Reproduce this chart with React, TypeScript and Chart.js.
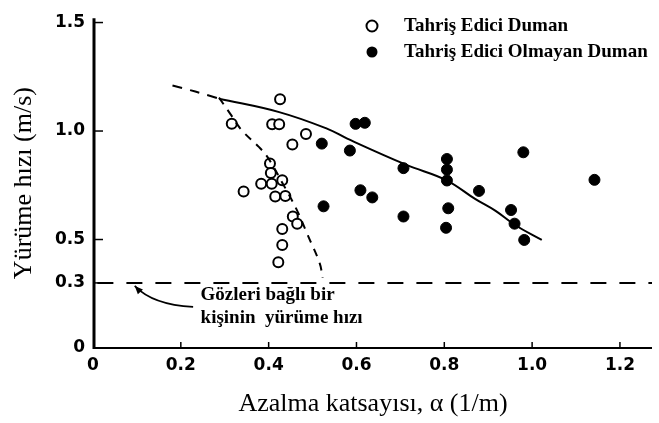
import React, { useEffect, useRef } from "react";
import { Chart, registerables } from "chart.js";

Chart.register(...registerables);

// ---- data ----
const openX = [0.426, 0.316, 0.408, 0.424, 0.485, 0.454, 0.403, 0.405, 0.383, 0.407, 0.431, 0.343, 0.415, 0.438, 0.455, 0.465, 0.431, 0.431, 0.422];
const openY = [1.146, 1.033, 1.031, 1.031, 0.986, 0.938, 0.85, 0.807, 0.757, 0.757, 0.773, 0.721, 0.698, 0.701, 0.606, 0.573, 0.548, 0.475, 0.395];

const filledX = [0.598, 0.619, 0.521, 0.585, 0.707, 0.806, 0.806, 0.806, 0.609, 0.636, 0.525, 0.707, 0.809, 0.804, 0.98, 0.879, 0.952, 0.96, 0.982, 1.142];
const filledY = [1.033, 1.038, 0.942, 0.91, 0.829, 0.871, 0.822, 0.772, 0.727, 0.694, 0.653, 0.606, 0.644, 0.554, 0.902, 0.724, 0.636, 0.573, 0.498, 0.775];

const solidX = [0.287, 0.424, 0.534, 0.579, 0.714, 0.804, 0.871, 0.916, 0.961, 1.022];
const solidY = [1.149, 1.087, 1.01, 0.965, 0.844, 0.774, 0.686, 0.633, 0.567, 0.498];

const dashTopX = [0.181, 0.233, 0.287];
const dashTopY = [1.21, 1.182, 1.149];

const dashDownX = [0.287, 0.313, 0.339, 0.377, 0.399, 0.431, 0.463, 0.489, 0.516, 0.523];
const dashDownY = [1.154, 1.078, 1.003, 0.928, 0.875, 0.762, 0.641, 0.52, 0.392, 0.323];

const blindX = [0.01, 1.273];
const blindY = [0.3, 0.3];

const xTicks = [0, 0.2, 0.4, 0.6, 0.8, 1.0, 1.2];
const yTicks = [0, 0.3, 0.5, 1.0, 1.5];

const legendLabels = ["Tahriş Edici Duman", "Tahriş Edici Olmayan Duman"];
const xTitle = "Azalma katsayısı, α (1/m)";
const yTitle = "Yürüme hızı (m/s)";
const noteLines = ["Gözleri bağlı bir", "kişinin  yürüme hızı"];

const pts = (xs: number[], ys: number[]) => xs.map((v, i) => ({ x: v, y: ys[i] }));
const fmt = (v: number) => (v === 0 ? "0" : v.toFixed(1));

const decor = {
  id: "decor",
  afterDatasetsDraw(chart: any) {
    const { ctx, chartArea: a, scales } = chart;
    const x = scales.x;
    const y = scales.y;
    ctx.save();
    ctx.strokeStyle = "#000";
    ctx.fillStyle = "#000";
    ctx.setLineDash([]);
    const seg = (x1: number, y1: number, x2: number, y2: number) => {
      ctx.beginPath();
      ctx.moveTo(x1, y1);
      ctx.lineTo(x2, y2);
      ctx.stroke();
    };
    // axes
    ctx.lineWidth = 3;
    seg(a.left + 1, a.top, a.left + 1, a.bottom + 1);
    ctx.lineWidth = 2;
    seg(a.left, a.bottom, a.right, a.bottom);
    // inward tick marks
    ctx.lineWidth = 1.5;
    yTicks.forEach((v) => {
      if (v === 0) return;
      const py = y.getPixelForValue(v);
      seg(a.left, py, a.left + 10, py);
    });
    xTicks.forEach((v) => {
      if (v === 0) return;
      const px = x.getPixelForValue(v);
      seg(px, a.bottom, px, a.bottom - 6);
    });

    // legend
    const lx = 372;
    const rows = [26, 52];
    ctx.lineWidth = 2;
    ctx.beginPath();
    ctx.arc(lx, rows[0], 5.5, 0, Math.PI * 2);
    ctx.fillStyle = "#fff";
    ctx.fill();
    ctx.stroke();
    ctx.fillStyle = "#000";
    ctx.beginPath();
    ctx.arc(lx, rows[1], 5.5, 0, Math.PI * 2);
    ctx.fill();
    ctx.font = "bold 19px 'Liberation Serif'";
    ctx.textAlign = "left";
    ctx.textBaseline = "middle";
    ctx.fillText(legendLabels[0], 404, rows[0]);
    ctx.fillText(legendLabels[1], 404, rows[1]);

    // annotation for the blindfolded walking speed line
    const lineY = y.getPixelForValue(0.3);
    const tipX = x.getPixelForValue(0.095);
    const tailX = x.getPixelForValue(0.228);
    const tipY = lineY + 3;
    const tailY = lineY + 24;
    ctx.lineWidth = 1.6;
    ctx.beginPath();
    ctx.moveTo(tailX, tailY);
    ctx.quadraticCurveTo(tipX + 18, tailY - 2, tipX, tipY);
    ctx.stroke();
    const ang = Math.atan2(tipY - (tailY - 2), tipX - (tipX + 18));
    ctx.beginPath();
    ctx.moveTo(tipX, tipY);
    ctx.lineTo(tipX - 9 * Math.cos(ang - 0.4), tipY - 9 * Math.sin(ang - 0.4));
    ctx.lineTo(tipX - 9 * Math.cos(ang + 0.4), tipY - 9 * Math.sin(ang + 0.4));
    ctx.closePath();
    ctx.fill();
    const tx = x.getPixelForValue(0.245);
    ctx.font = "bold 19px 'Liberation Serif'";
    ctx.textBaseline = "middle";
    ctx.fillText(noteLines[0], tx, lineY + 12);
    ctx.fillText(noteLines[1], tx, lineY + 35);

    // axis titles
    ctx.font = "26px 'Liberation Serif'";
    ctx.textAlign = "center";
    ctx.textBaseline = "alphabetic";
    ctx.fillText(xTitle, 373, 411);
    ctx.save();
    ctx.translate(31, (a.top + a.bottom) / 2);
    ctx.rotate(-Math.PI / 2);
    ctx.fillText(yTitle, 0, 0);
    ctx.restore();

    ctx.restore();
  },
};

export default function App() {
  const ref = useRef<HTMLCanvasElement | null>(null);
  useEffect(() => {
    if (!ref.current) return;
    const lineBase = {
      type: "scatter" as const,
      showLine: true,
      pointRadius: 0,
      borderColor: "#000",
      backgroundColor: "#000",
      fill: false,
    };
    const chart = new Chart(ref.current, {
      type: "scatter",
      data: {
        datasets: [
          { ...lineBase, data: pts(blindX, blindY), borderWidth: 2, borderDash: [16, 13], tension: 0 },
          { ...lineBase, data: pts(solidX, solidY), borderWidth: 2, tension: 0.4 },
          { ...lineBase, data: pts(dashTopX, dashTopY), borderWidth: 2, borderDash: [10, 8], tension: 0.3 },
          { ...lineBase, data: pts(dashDownX, dashDownY), borderWidth: 2, borderDash: [8, 7], tension: 0.4 },
          {
            type: "scatter",
            data: pts(filledX, filledY),
            pointRadius: 5.5,
            pointBackgroundColor: "#000",
            pointBorderColor: "#000",
            pointBorderWidth: 1,
            showLine: false,
          },
          {
            type: "scatter",
            data: pts(openX, openY),
            pointRadius: 5,
            pointBackgroundColor: "#fff",
            pointBorderColor: "#000",
            pointBorderWidth: 2,
            showLine: false,
          },
        ],
      },
      options: {
        animation: false,
        responsive: false,
        devicePixelRatio: 1,
        layout: { padding: { top: 13, right: 0, left: 0, bottom: 0 } },
        plugins: { legend: { display: false }, tooltip: { enabled: false } },
        scales: {
          x: {
            type: "linear",
            min: 0,
            max: 1.273,
            grid: { display: false, drawTicks: false },
            border: { display: false },
            afterBuildTicks: (s: any) => {
              s.ticks = xTicks.map((v) => ({ value: v }));
            },
            afterFit: (s: any) => {
              s.height = 75;
            },
            ticks: {
              callback: (v: any) => fmt(Number(v)),
              color: "#000",
              padding: 7,
              maxRotation: 0,
              autoSkip: false,
              font: { family: "'DejaVu Sans'", weight: "bold", size: 17 },
            },
          },
          y: {
            type: "linear",
            min: 0,
            max: 1.52,
            grid: { display: false, drawTicks: false },
            border: { display: false },
            afterBuildTicks: (s: any) => {
              s.ticks = yTicks.map((v) => ({ value: v }));
            },
            afterFit: (s: any) => {
              s.width = 93;
            },
            ticks: {
              callback: (v: any) => fmt(Number(v)),
              color: "#000",
              padding: 8,
              autoSkip: false,
              font: { family: "'DejaVu Sans'", weight: "bold", size: 17 },
            },
          },
        },
      },
      plugins: [decor],
    } as any);
    return () => chart.destroy();
  }, []);
  return (
    <div style={{ position: "absolute", left: 0, top: 0, width: 659, height: 423, background: "#fff" }}>
      <canvas ref={ref} width={659} height={423} style={{ display: "block", width: 659, height: 423 }} />
    </div>
  );
}
